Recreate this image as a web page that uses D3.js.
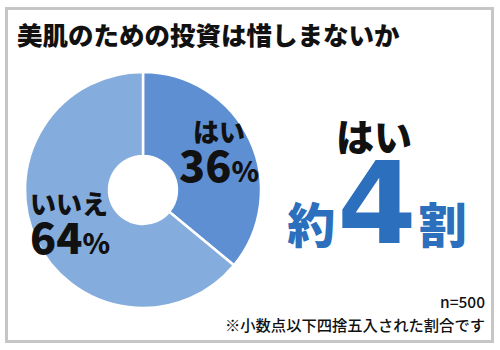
<!DOCTYPE html>
<html>
<head>
<meta charset="utf-8">
<script src="https://cdn.jsdelivr.net/npm/d3@7"></script>
<style>
  body { margin: 0; background: #fff; }
  text { font-family: "Noto Sans CJK JP", sans-serif; }
</style>
</head>
<body>
<svg id="chart" width="500" height="350"></svg>
<script>
const categories = ["はい", "いいえ"];
const values = [36, 64];
const colors = ["#5f8fd3", "#84acdd"];
const title = "美肌のための投資は惜しまないか";
const note = "※小数点以下四捨五入された割合です";
const sampleSize = "n=500";

const svg = d3.select("#chart");

// frame
svg.append("rect")
    .attr("x", 6.5).attr("y", 8.5)
    .attr("width", 486).attr("height", 333)
    .attr("fill", "#fff")
    .attr("stroke", "#c6c6c6")
    .attr("stroke-width", 3);

svg.append("text")
    .attr("x", 17).attr("y", 45)
    .style("font-size", "25.5px")
    .style("font-weight", "900")
    .attr("fill", "#111")
    .text(title);

const cx = 143, cy = 190;
const pie = d3.pie().sort(null).value(d => d)(values);
const arc = d3.arc().innerRadius(34).outerRadius(118);

const g = svg.append("g").attr("transform", `translate(${cx},${cy})`);
g.selectAll("path")
    .data(pie)
    .enter()
    .append("path")
    .attr("d", arc)
    .attr("fill", (d, i) => colors[i])
    .attr("stroke", "#fff")
    .attr("stroke-width", 2.5);

// slice labels
const labelPos = [[50, -48], [-113, 24]];
pie.forEach((d, i) => {
    const lg = g.append("g").attr("transform", `translate(${labelPos[i][0]},${labelPos[i][1]})`);
    lg.append("text")
        .attr("x", 0).attr("y", 0)
        .style("font-size", "26px")
        .style("font-weight", "900")
        .attr("fill", "#111")
        .text(categories[i]);
    const t = lg.append("text")
        .attr("x", i == 0 ? -14 : 0).attr("y", 40)
        .style("font-weight", "900")
        .attr("fill", "#111");
    t.append("tspan").style("font-size", "43px").text(values[i]);
    t.append("tspan").style("font-size", "28px").text("%");
});

// headline
svg.append("text")
    .attr("x", 374).attr("y", 151)
    .attr("text-anchor", "middle")
    .style("font-size", "38px")
    .style("font-weight", "900")
    .attr("fill", "#111")
    .text(categories[0]);
const big = svg.append("text")
    .attr("x", 377).attr("y", 243)
    .attr("text-anchor", "middle")
    .style("font-weight", "900")
    .attr("fill", "#2b6fbd");
big.append("tspan").style("font-size", "48px").text("約");
big.append("tspan")
    .style("font-size", "114px")
    .style("font-family", "'DejaVu Sans', sans-serif")
    .style("font-weight", "bold")
    .attr("dx", 2)
    .text(Math.round(values[0] / 10));
big.append("tspan").style("font-size", "48px").attr("dx", 2).text("割");

svg.append("text")
    .attr("x", 485).attr("y", 308)
    .attr("text-anchor", "end")
    .style("font-size", "15.5px")
    .style("font-weight", "500")
    .attr("fill", "#111")
    .text(sampleSize);
svg.append("text")
    .attr("x", 485).attr("y", 331)
    .attr("text-anchor", "end")
    .style("font-size", "15.3px")
    .style("font-weight", "500")
    .attr("fill", "#111")
    .text(note);
</script>
</body>
</html>
